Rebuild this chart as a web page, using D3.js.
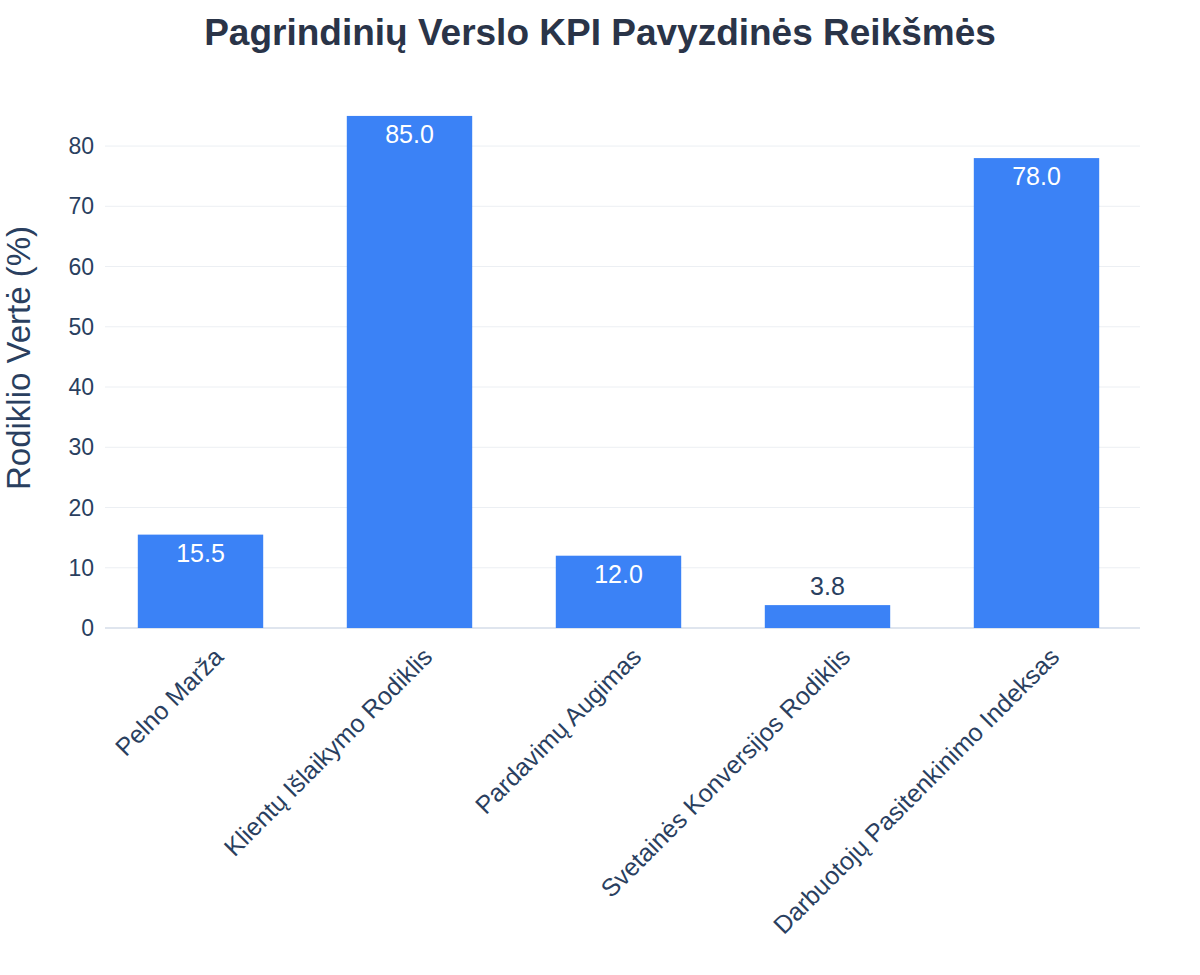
<!DOCTYPE html><html><head><meta charset="utf-8"><script src="https://cdn.jsdelivr.net/npm/d3@7"></script>
<style>body{margin:0;background:#fff}text{font-family:"Liberation Sans",Arial,sans-serif}</style></head><body><svg id="c" width="1200" height="975"></svg>
<script>
const categories=["Pelno Marža","Klientų Išlaikymo Rodiklis","Pardavimų Augimas","Svetainės Konversijos Rodiklis","Darbuotojų Pasitenkinimo Indeksas"];
const values=[15.5,85.0,12.0,3.8,78.0];
const yTicks=[0,10,20,30,40,50,60,70,80];
const svg=d3.select("#c");
const x=d3.scaleBand().domain(categories).range([96,1141]).paddingInner(0.4).paddingOuter(0.2);
const y=d3.scaleLinear().domain([0,89.47]).range([628,89]);
const g=svg.append("g");
g.selectAll(".grid").data(yTicks).join("line").attr("x1",105).attr("x2",1140).attr("y1",d=>y(d)).attr("y2",d=>y(d)).attr("stroke",d=>d===0?"#dfe5ee":"#eceff3").attr("stroke-width",d=>d===0?2:1);
g.selectAll(".yt").data(yTicks).join("text").attr("x",94).attr("y",d=>y(d)).attr("dy","0.35em").attr("text-anchor","end").attr("font-size",23).attr("fill","#2a3f5f").text(d=>d);
g.selectAll("rect").data(values).join("rect").attr("x",(d,i)=>x(categories[i])).attr("width",x.bandwidth()).attr("y",d=>y(d)).attr("height",d=>y(0)-y(d)).attr("fill","#3b82f6");
g.selectAll(".vl").data(values).join("text").attr("x",(d,i)=>x(categories[i])+x.bandwidth()/2).attr("y",d=>d<8?y(d)-10:y(d)+27).attr("text-anchor","middle").attr("font-size",25).attr("fill",d=>d<8?"#2a3f5f":"#fff").text(d=>d.toFixed(1));
g.selectAll(".xl").data(categories).join("text").attr("transform",d=>`translate(${x(d)+x.bandwidth()/2+12},${646}) rotate(-45)`).attr("text-anchor","end").attr("dy","0.7em").attr("font-size",25).attr("fill","#2a3f5f").text(d=>d);
svg.append("text").attr("x",600).attr("y",45).attr("text-anchor","middle").attr("font-size",37).attr("font-weight","bold").attr("fill","#2a3448").text("Pagrindinių Verslo KPI Pavyzdinės Reikšmės");
svg.append("text").attr("transform","translate(30,358) rotate(-90)").attr("text-anchor","middle").attr("font-size",33).attr("fill","#2a3f5f").text("Rodiklio Vertė (%)");
</script></body></html>
